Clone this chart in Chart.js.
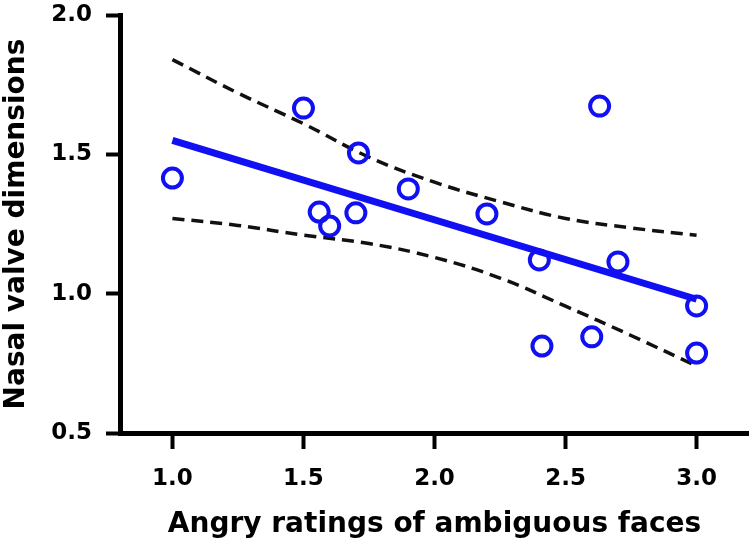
<!DOCTYPE html>
<html>
<head>
<meta charset="utf-8">
<script src="https://cdn.jsdelivr.net/npm/chart.js@4.4.1/dist/chart.umd.min.js"></script>
<style>
  html, body { margin: 0; padding: 0; background: #fff; }
  #wrap { width: 749px; height: 547px; }
</style>
</head>
<body>
<div id="wrap"><canvas id="chart" width="749" height="547"></canvas></div>
<script>
// values
const angryRatings = [1.0, 1.5, 1.56, 1.6, 1.7, 1.71, 1.9, 2.2, 2.4, 2.41, 2.6, 2.63, 2.7, 3.0, 3.0];
const nasalValve = [1.415, 1.666, 1.293, 1.243, 1.29, 1.505, 1.376, 1.286, 1.121, 0.812, 0.845, 1.673, 1.114, 0.956, 0.787];

const fitX = [1.0, 3.0];
const fitY = [1.55, 0.98];

const bandX = [1.0, 1.25, 1.5, 1.75, 2.0, 2.25, 2.5, 2.75, 3.0];
const upperBand = [1.84, 1.72, 1.61, 1.49, 1.40, 1.33, 1.27, 1.236, 1.21];
const lowerBand = [1.27, 1.245, 1.21, 1.18, 1.13, 1.056, 0.955, 0.85, 0.74];

const xTicks = [1.0, 1.5, 2.0, 2.5, 3.0];
const yTicks = [0.5, 1.0, 1.5, 2.0];

const FONT = 'DejaVu Sans, Arial, sans-serif';
const BLUE = '#1010f2';

const toPoints = (xs, ys) => xs.map((x, i) => ({ x: x, y: ys[i] }));

// label padding would otherwise push the plot area in
function noEdgePadding(s) {
    s.paddingLeft = 0;
    s.paddingRight = 0;
    s.paddingTop = 0;
    s.paddingBottom = 0;
}

function axisStyle(tickLen, labelPad) {
    return {
        border: { display: true, color: '#000', width: 5 },
        grid: {
            drawOnChartArea: false,
            drawTicks: true,
            tickLength: tickLen,
            tickWidth: 4,
            tickColor: '#000',
        },
        ticks: {
            color: '#000',
            padding: labelPad,
            autoSkip: false,
            maxRotation: 0,
            font: { family: FONT, size: 23, weight: 'bold' },
            callback: v => Number(v).toFixed(1),
        },
    };
}

const xAxis = axisStyle(16, 16);
Object.assign(xAxis, {
    type: 'linear',
    min: 0.8,
    max: 3.2,
    afterBuildTicks: s => { s.ticks = xTicks.map(v => ({ value: v })); },
    afterFit: s => { s.height = 114; noEdgePadding(s); },
    title: {
        display: true,
        text: 'Angry ratings of ambiguous faces',
        color: '#000',
        font: { family: FONT, size: 28, weight: 'bold' },
        padding: { top: 0, bottom: 5 },
    },
});

const yAxis = axisStyle(14, 14);
Object.assign(yAxis, {
    type: 'linear',
    min: 0.5,
    max: 2.0,
    afterBuildTicks: s => { s.ticks = yTicks.map(v => ({ value: v })); },
    afterFit: s => { s.width = 120; noEdgePadding(s); },
    title: {
        display: true,
        text: 'Nasal valve dimensions',
        color: '#000',
        font: { family: FONT, size: 28, weight: 'bold' },
        padding: { top: 0, bottom: 0 },
    },
});

new Chart(document.getElementById('chart'), {
    type: 'scatter',
    data: {
        datasets: [
            {
                label: 'Subjects',
                data: toPoints(angryRatings, nasalValve),
                pointRadius: 9.5,
                pointBorderWidth: 4,
                borderColor: BLUE,
                backgroundColor: 'rgba(0,0,0,0)',
                pointStyle: 'circle',
            },
            {
                label: 'Fit',
                data: toPoints(fitX, fitY),
                showLine: true,
                pointRadius: 0,
                borderColor: BLUE,
                borderWidth: 7,
                borderCapStyle: 'butt',
            },
            {
                label: 'Upper 95% CI',
                data: toPoints(bandX, upperBand),
                showLine: true,
                pointRadius: 0,
                tension: 0.4,
                borderColor: '#111',
                borderWidth: 3.5,
                borderDash: [12, 7],
            },
            {
                label: 'Lower 95% CI',
                data: toPoints(bandX, lowerBand),
                showLine: true,
                pointRadius: 0,
                tension: 0.4,
                borderColor: '#111',
                borderWidth: 3.5,
                borderDash: [12, 7],
            },
        ],
    },
    options: {
        responsive: false,
        animation: false,
        layout: { autoPadding: false, padding: { top: 15, left: 0, right: 0, bottom: 0 } },
        plugins: {
            legend: { display: false },
            tooltip: { enabled: false },
        },
        scales: { x: xAxis, y: yAxis },
    },
});
</script>
</body>
</html>
